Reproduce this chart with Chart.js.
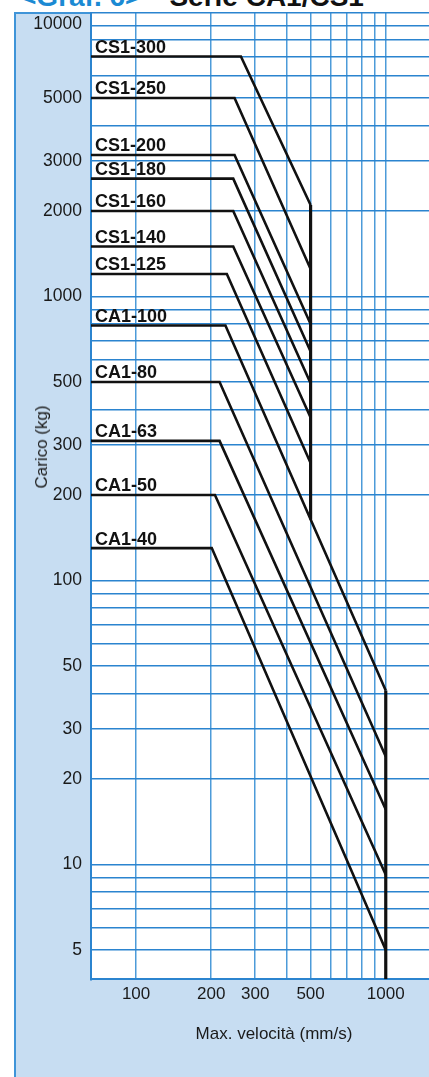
<!DOCTYPE html>
<html lang="it">
<head>
<meta charset="utf-8">
<title>Serie CA1/CS1</title>
<script src="https://cdn.jsdelivr.net/npm/chart.js@4.4.1/dist/chart.umd.min.js"></script>
<style>
  html, body { margin: 0; padding: 0; background: #fff; overflow: hidden; }
  body { width: 429px; height: 1077px; position: relative; font-family: "Liberation Sans", Arial, sans-serif; }
  .heading { position: absolute; left: 20px; top: -17px; font-size: 28px; line-height: 28px; font-weight: bold; white-space: nowrap; color: #111; }
  .heading .num { color: #1b8ad3; margin-right: 28px; }
  .panel { position: absolute; left: 14px; top: 12px; right: -4px; bottom: -4px; background: #c7ddf2; border-left: 2px solid #3f94d8; border-top: 2px solid #3f94d8; }
  canvas { position: absolute; left: 0; top: 0; }
  .axis-title { position: absolute; font-size: 17px; color: #1a1a1a; white-space: nowrap; }
  #ytitle { left: 42px; top: 447px; transform: translate(-50%, -50%) rotate(-90deg); }
  #xtitle { left: 274px; top: 1034px; transform: translate(-50%, -50%); }
</style>
</head>
<body>
<div class="heading"><span class="num">&lt;Graf. 6&gt;</span>Serie CA1/CS1</div>
<div class="panel"></div>
<canvas id="chart" width="429" height="1077"></canvas>
<div class="axis-title" id="ytitle">Carico (kg)</div>
<div class="axis-title" id="xtitle">Max. velocità (mm/s)</div>

<script>
// modelli (alesaggio)
const models = ['CS1-300', 'CS1-250', 'CS1-200', 'CS1-180', 'CS1-160', 'CS1-140', 'CS1-125',
  'CA1-100', 'CA1-80', 'CA1-63', 'CA1-50', 'CA1-40'];
// carico massimo (kg), tratto orizzontale
const maxLoad = [7000, 5000, 3150, 2600, 2000, 1500, 1200, 790, 500, 310, 200, 130];
// velocità (mm/s) dove inizia la discesa
const kneeSpeed = [263, 248, 248, 245, 245, 245, 231, 228, 216, 216, 207, 201];
// fine curva: velocità massima e carico corrispondente
const endSpeed = [500, 500, 500, 500, 500, 500, 500, 1000, 1000, 1000, 1000, 1000];
const endLoad = [2100, 1250, 800, 640, 495, 375, 259, 41, 24, 15.6, 9.2, 5];

// limiti verticali (carico da / a)
const limit500 = [2100, 164];
const limit1000 = [41, 3.94];

// assi
const speedMin = 66;
const speedMax = 1490;
const loadMin = 3.94;
const loadMax = 10000;
const speedGrid = [100, 200, 300, 400, 500, 600, 700, 800, 900, 1000];
const speedLabels = [100, 200, 300, 500, 1000];
const loadGrid = [5, 6, 7, 8, 9, 10, 20, 30, 40, 50, 60, 70, 80, 90, 100, 200, 300, 400, 500,
  600, 700, 800, 900, 1000, 2000, 3000, 4000, 5000, 6000, 7000, 8000, 9000, 10000];
const loadLabels = [5, 10, 20, 30, 50, 100, 200, 300, 500, 1000, 2000, 3000, 5000, 10000];

const FONT = '"Liberation Sans", Arial, Helvetica, sans-serif';
const GRID_BLUE = '#2b84cf';

/**
 * sfondo bianco dell'area del grafico
 */
const plotBackground = {
  id: 'plotBackground',
  beforeDraw(chart) {
    const { ctx, chartArea: a } = chart;
    ctx.save();
    ctx.fillStyle = '#fff';
    ctx.fillRect(a.left, a.top, a.right - a.left, a.bottom - a.top);
    ctx.restore();
  },
};

/**
 * nomi dei modelli sopra il tratto orizzontale
 */
const modelLabels = {
  id: 'modelLabels',
  afterDatasetsDraw(chart) {
    const { ctx, chartArea, scales: { y } } = chart;
    ctx.save();
    ctx.font = `bold 18px ${FONT}`;
    ctx.fillStyle = '#111';
    ctx.textBaseline = 'alphabetic';
    ctx.textAlign = 'left';
    models.forEach((m, i) => {
      ctx.fillText(m, chartArea.left + 4, y.getPixelForValue(maxLoad[i]) - 3.5);
    });
    ctx.restore();
  },
};

const curveSets = models.map((m, i) => ({
  label: m,
  data: [
    { x: speedMin, y: maxLoad[i] },
    { x: kneeSpeed[i], y: maxLoad[i] },
    { x: endSpeed[i], y: endLoad[i] },
  ],
  borderColor: '#111',
  borderWidth: 2.6,
  borderJoinStyle: 'miter',
  pointRadius: 0,
  fill: false,
}));

const limitSets = [
  { label: '500 mm/s', data: limit500.map(v => ({ x: 500, y: v })) },
  { label: '1000 mm/s', data: limit1000.map(v => ({ x: 1000, y: v })) },
].map(d => ({ ...d, borderColor: '#111', borderWidth: 3.2, pointRadius: 0, fill: false }));

new Chart(document.getElementById('chart'), {
  type: 'line',
  data: { datasets: [...curveSets, ...limitSets] },
  options: {
    responsive: false,
    animation: false,
    layout: { padding: { top: 12.5, right: 0, bottom: 0, left: 0 } },
    plugins: {
      legend: { display: false },
      tooltip: { enabled: false },
    },
    scales: {
      x: {
        type: 'logarithmic',
        min: speedMin,
        max: speedMax,
        afterBuildTicks: s => { s.ticks = speedGrid.map(v => ({ value: v })); },
        afterFit: s => { s.height = 97.7; s.paddingLeft = 0; s.paddingRight = 0; },
        grid: { color: '#4d9bd9', lineWidth: 1.5, drawTicks: false },
        border: { color: GRID_BLUE, width: 2 },
        ticks: {
          autoSkip: false,
          maxRotation: 0,
          padding: 5,
          color: '#1a1a1a',
          font: { family: FONT, size: 17 },
          callback: v => (speedLabels.includes(v) ? String(v) : ''),
        },
      },
      y: {
        type: 'logarithmic',
        min: loadMin,
        max: loadMax,
        afterBuildTicks: s => { s.ticks = loadGrid.map(v => ({ value: v })); },
        afterFit: s => { s.width = 91; s.paddingTop = 0; s.paddingBottom = 0; },
        grid: { color: GRID_BLUE, lineWidth: 1.5, drawTicks: false },
        border: { color: GRID_BLUE, width: 2 },
        ticks: {
          autoSkip: false,
          padding: 9,
          color: '#1a1a1a',
          font: { family: FONT, size: 17.5, lineHeight: 1.3 },
          // 10000 sta sul bordo: etichetta spostata una mezza riga sotto
          callback: v => {
            if (!loadLabels.includes(v)) return '';
            return v === loadMax ? ['', String(v)] : String(v);
          },
        },
      },
    },
  },
  plugins: [plotBackground, modelLabels],
});
</script>
</body>
</html>
